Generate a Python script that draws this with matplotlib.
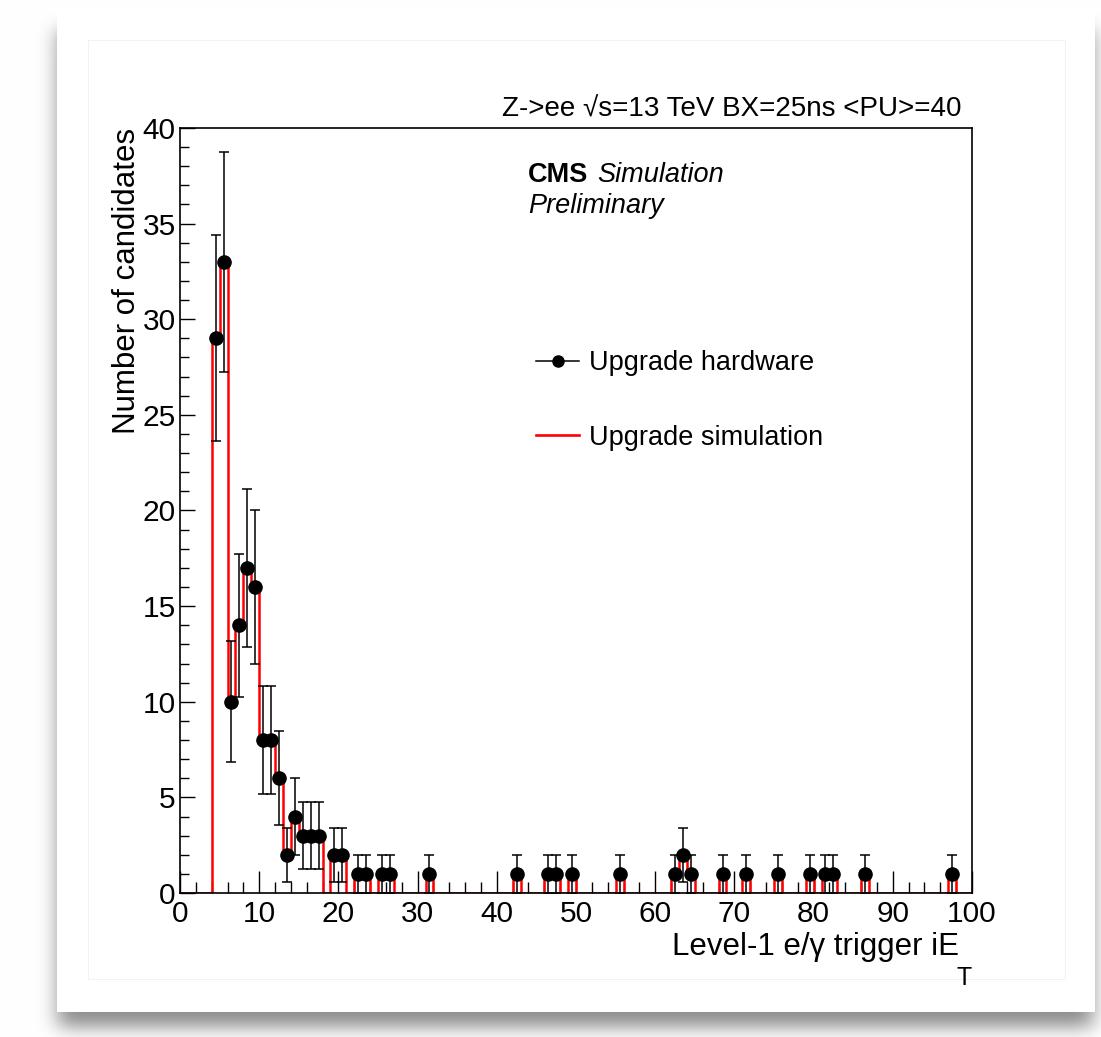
import math

import numpy as np
import matplotlib
matplotlib.use("Agg")
import matplotlib.pyplot as plt
from matplotlib.lines import Line2D

plt.rcParams['font.family'] = ['Liberation Sans', 'DejaVu Sans']

# iE_T bins (width 1, 0..100) that have entries, and their counts
bin_low = [4, 5, 6, 7, 8, 9, 10, 11, 12, 13, 14, 15, 16, 17, 19, 20, 22, 23,
           25, 26, 31, 42, 46, 47, 49, 55, 62, 63, 64, 68, 71, 75, 79, 81,
           82, 86, 97]
hw_counts = [29, 33, 10, 14, 17, 16, 8, 8, 6, 2, 4, 3, 3, 3, 2, 2, 1, 1,
             1, 1, 1, 1, 1, 1, 1, 1, 1, 2, 1, 1, 1, 1, 1, 1,
             1, 1, 1]
sim_counts = [29, 33, 10, 14, 17, 16, 8, 8, 6, 2, 4, 3, 3, 3, 2, 2, 1, 1,
              1, 1, 1, 1, 1, 1, 1, 1, 1, 2, 1, 1, 1, 1, 1, 1,
              1, 1, 1]

x_range = (0, 100)
y_range = (0, 40)

W, H = 1101, 1037
fig = plt.figure(figsize=(W / 100, H / 100), dpi=100)


# --- card background with soft drop shadow ---
def soft_box(coord, lo, hi, sigma):
    phi = np.vectorize(lambda t: 0.5 * (1 + math.erf(t / math.sqrt(2))))
    return phi((coord - lo) / sigma) - phi((coord - hi) / sigma)


xs = np.arange(W) + 0.5
ys = np.arange(H) + 0.5
shadow = 0.45 * np.outer(soft_box(ys, 30, 1027, 9), soft_box(xs, 58, 1093, 10))
bg = 1.0 - shadow
bg[9:1012, 57:1095] = 1.0
grey = 0.95
bg[40, 88:1066] = grey
bg[979, 88:1066] = grey
bg[40:980, 88] = grey
bg[40:980, 1065] = grey

bg_ax = fig.add_axes([0, 0, 1, 1], zorder=0)
bg_ax.imshow(np.dstack([bg, bg, bg]), extent=[0, W, H, 0], interpolation='bilinear')
bg_ax.set_xlim(0, W)
bg_ax.set_ylim(H, 0)
bg_ax.axis('off')

# --- main frame ---
left, right, top, bottom = 180, 972, 128, 893
ax = fig.add_axes([left / W, 1 - bottom / H, (right - left) / W, (bottom - top) / H], zorder=1)
ax.set_facecolor('white')

edges = np.arange(x_range[0], x_range[1] + 1)
sim_hist = np.zeros(len(edges) - 1)
sim_hist[bin_low] = sim_counts
ax.stairs(sim_hist, edges, color='#ff0000', lw=1.8, baseline=0, zorder=2)

centers = np.array(bin_low) + 0.5
hw = np.array(hw_counts, dtype=float)
ax.errorbar(centers, hw, yerr=np.sqrt(hw), fmt='o', color='black', ms=9.5,
            elinewidth=1.1, capsize=3.5, capthick=1.1, zorder=3)

ax.set_xlim(*x_range)
ax.set_ylim(*y_range)
ax.set_xticks(np.arange(0, 101, 10))
ax.set_xticks(np.arange(0, 101, 2), minor=True)
ax.set_yticks(np.arange(0, 41, 5))
ax.set_yticks(np.arange(0, 41, 1), minor=True)
ax.tick_params(which='both', direction='in', top=False, right=False,
               labelsize=21.5, width=1.0, color='black')
ax.tick_params(axis='x', which='major', length=16, pad=5)
ax.tick_params(axis='x', which='minor', length=8)
ax.tick_params(axis='y', which='major', length=11, pad=3)
ax.tick_params(axis='y', which='minor', length=6.5)
for sp in ax.spines.values():
    sp.set_linewidth(1.2)

# legend
handles = [Line2D([], [], color='black', lw=1.1, marker='o', ms=8),
           Line2D([], [], color='#ff0000', lw=1.9)]
ax.legend(handles, ['Upgrade hardware', 'Upgrade simulation'],
          loc='upper left', bbox_to_anchor=((536 - left) / (right - left), (bottom - 350) / (bottom - top)),
          frameon=False, fontsize=19.5, handlelength=1.6, handletextpad=0.35,
          labelspacing=1.8, borderpad=0, borderaxespad=0)

# --- labels and annotations ---
fig.text(962 / W, 1 - 117 / H, 'Z->ee √s=13 TeV BX=25ns <PU>=40',
         ha='right', va='baseline', fontsize=20)
fig.text(528 / W, 1 - 182 / H, 'CMS', ha='left', va='baseline',
         fontsize=19.5, fontweight='bold')
fig.text(597 / W, 1 - 182 / H, 'Simulation', ha='left', va='baseline',
         fontsize=19.5, style='italic')
fig.text(528 / W, 1 - 213 / H, 'Preliminary', ha='left', va='baseline',
         fontsize=19.5, style='italic')

fig.text(127 / W, 1 - 128 / H, 'Number of candidates', rotation=90,
         ha='center', va='top', fontsize=22.5)
fig.text(959 / W, 1 - 955 / H, 'Level-1 e/γ trigger iE', ha='right',
         va='baseline', fontsize=22.5)
fig.text(956 / W, 1 - 985 / H, 'T', ha='left', va='baseline', fontsize=18)

fig.savefig('out.png', dpi=100)
